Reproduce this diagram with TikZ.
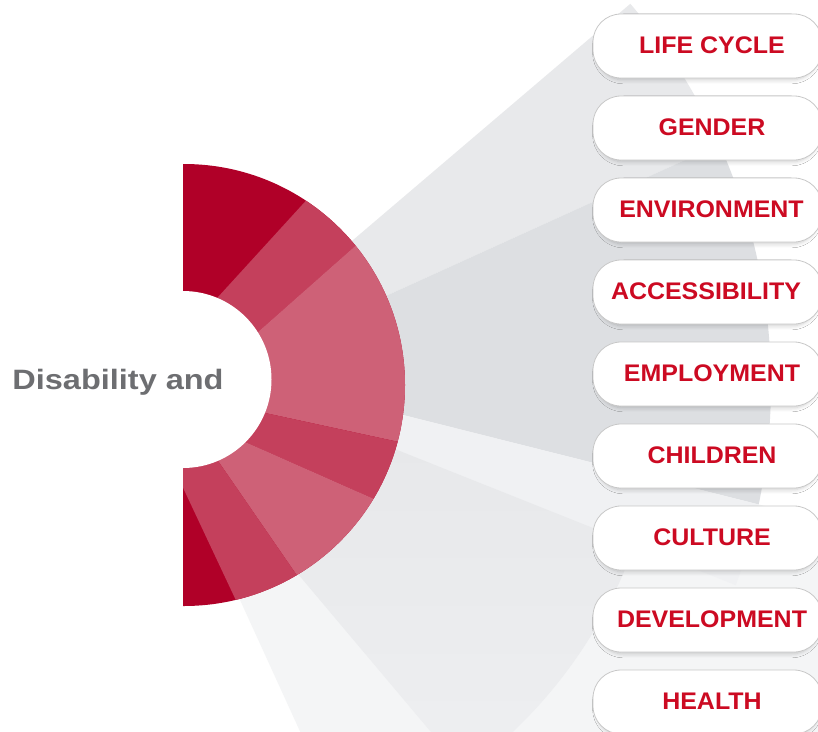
\documentclass[tikz,border=0pt]{standalone}
\usepackage{fontspec}
\setmainfont{Liberation Sans}
\newfontfamily\boxfont[FakeStretch=1.04]{Liberation Sans}
\newfontfamily\titlefont[FakeStretch=1.16]{Liberation Sans}
\usetikzlibrary{calc,shadows.blur}
\definecolor{dk}{HTML}{B00028}
\definecolor{md}{HTML}{C4405C}
\definecolor{lt}{HTML}{CE6177}
\definecolor{txtred}{HTML}{CC0A22}
\definecolor{txtgrey}{HTML}{6D6E71}
\definecolor{beamBase}{HTML}{F4F5F6}
\definecolor{beamA}{HTML}{E8E9EB}
\definecolor{beamB}{HTML}{DDDFE2}
\definecolor{beamS}{HTML}{F0F1F3}
\definecolor{beamC}{HTML}{E6E7E9}
\definecolor{beamCb}{HTML}{EEEFF1}
\definecolor{boxline}{HTML}{C8C8C8}
\tikzset{
  segdark/.style={fill=dk},
  segmid/.style={fill=md},
  seglight/.style={fill=lt},
  tagbox/.style={draw=boxline, line width=0.8pt, fill=white, rounded corners=28pt,
    minimum width=229pt, minimum height=64pt, inner sep=0pt,
    blur shadow={shadow xshift=0pt, shadow yshift=-3pt, shadow scale=0.97,
      shadow blur radius=4pt, shadow blur steps=8, shadow opacity=20}},
  tagtext/.style={anchor=base, text=txtred, inner sep=0pt,
    font=\boxfont\bfseries\fontsize{24}{24}\selectfont},
  titletext/.style={anchor=base, text=txtgrey, inner sep=0pt,
    font=\titlefont\bfseries\fontsize{28}{28}\selectfont},
}
\begin{document}
\begin{tikzpicture}[x=1pt,y=-1pt]
\useasboundingbox (0,0) rectangle (818,731);
\clip (0,0) rectangle (818,731);
\fill[white] (0,0) rectangle (818,731);

% centres of the ring
\coordinate (oc) at (184,385);
\coordinate (ic) at (183,379.5);

% grey beams
\fill[beamBase] (250,376.5) -- (900,540) -- (900,900) -- (330,797) -- (230,578) -- cycle;
\fill[beamA] (250,327.8) -- ($(oc)+(-40.5:587)$)
  arc[start angle=-40.5, end angle=-24.2, radius=587] -- (250,357.7) -- cycle;
\fill[beamB] (250,357.7) -- ($(oc)+(-24.2:587)$)
  arc[start angle=-24.2, end angle=11.74, radius=587] -- (250,376.5) -- cycle;
\fill[beamS] (250,376.5) -- ($(oc)+(11.74:587)$)
  arc[start angle=11.74, end angle=19.94, radius=587] -- (250,391.3) -- cycle;
\shade[top color=beamC, bottom color=beamCb] (250,391.3) -- ($(oc)+(19.5:478)$)
  arc[start angle=19.5, end angle=54.05, radius=478] -- (250,517) -- cycle;

% segment boundaries (inner point, outer point)
\coordinate (b1i) at (218.3,296.7); \coordinate (b1o) at (305,201.7);
\coordinate (b2i) at (258.3,331.7); \coordinate (b2o) at (354.3,246.7);
\coordinate (b3i) at (266.7,413.3); \coordinate (b3o) at (397.7,441.7);
\coordinate (b4i) at (248.3,443.3); \coordinate (b4o) at (372.7,498.3);
\coordinate (b5i) at (219.3,462.7); \coordinate (b5o) at (296.7,575);
\coordinate (b6i) at (183.3,488.3); \coordinate (b6o) at (235,598.3);

\begin{scope}
  \clip (183,0) rectangle (450,731);
  \clip (oc) circle (221);
  \fill[segdark] (150,150) rectangle (450,620);
  \fill[segmid] ($(b1i)!-0.3!(b1o)$) -- ($(b1i)!1.45!(b1o)$) -- ($(b2i)!1.45!(b2o)$) -- ($(b2i)!-0.3!(b2o)$) -- cycle;
  \fill[seglight] ($(b2i)!-0.3!(b2o)$) -- ($(b2i)!1.45!(b2o)$) -- ($(b3i)!1.45!(b3o)$) -- ($(b3i)!-0.3!(b3o)$) -- cycle;
  \fill[segmid] ($(b3i)!-0.3!(b3o)$) -- ($(b3i)!1.45!(b3o)$) -- ($(b4i)!1.45!(b4o)$) -- ($(b4i)!-0.3!(b4o)$) -- cycle;
  \fill[seglight] ($(b4i)!-0.3!(b4o)$) -- ($(b4i)!1.45!(b4o)$) -- ($(b5i)!1.45!(b5o)$) -- ($(b5i)!-0.3!(b5o)$) -- cycle;
  \fill[segmid] ($(b5i)!-0.3!(b5o)$) -- ($(b5i)!1.45!(b5o)$) -- ($(b6i)!1.45!(b6o)$) -- ($(b6i)!-0.3!(b6o)$) -- cycle;
\end{scope}
\fill[white] (ic) circle (88.5);

\node[titletext] (title) at (118,389) {Disability and};

\foreach \i/\t/\dx in {1/LIFE CYCLE/4.5, 2/GENDER/4.5, 3/ENVIRONMENT/4, 4/ACCESSIBILITY/-1.5,
    5/EMPLOYMENT/4.5, 6/CHILDREN/4.5, 7/CULTURE/4.5, 8/DEVELOPMENT/4.5, 9/HEALTH/4.5}{
  \node[tagbox] (box\i) at (707.5,{46+82*(\i-1)}) {};
  \node[tagtext] (tag\i) at ($(box\i.center)+(\dx,7.5)$) {\t};
}
\end{tikzpicture}
\end{document}
